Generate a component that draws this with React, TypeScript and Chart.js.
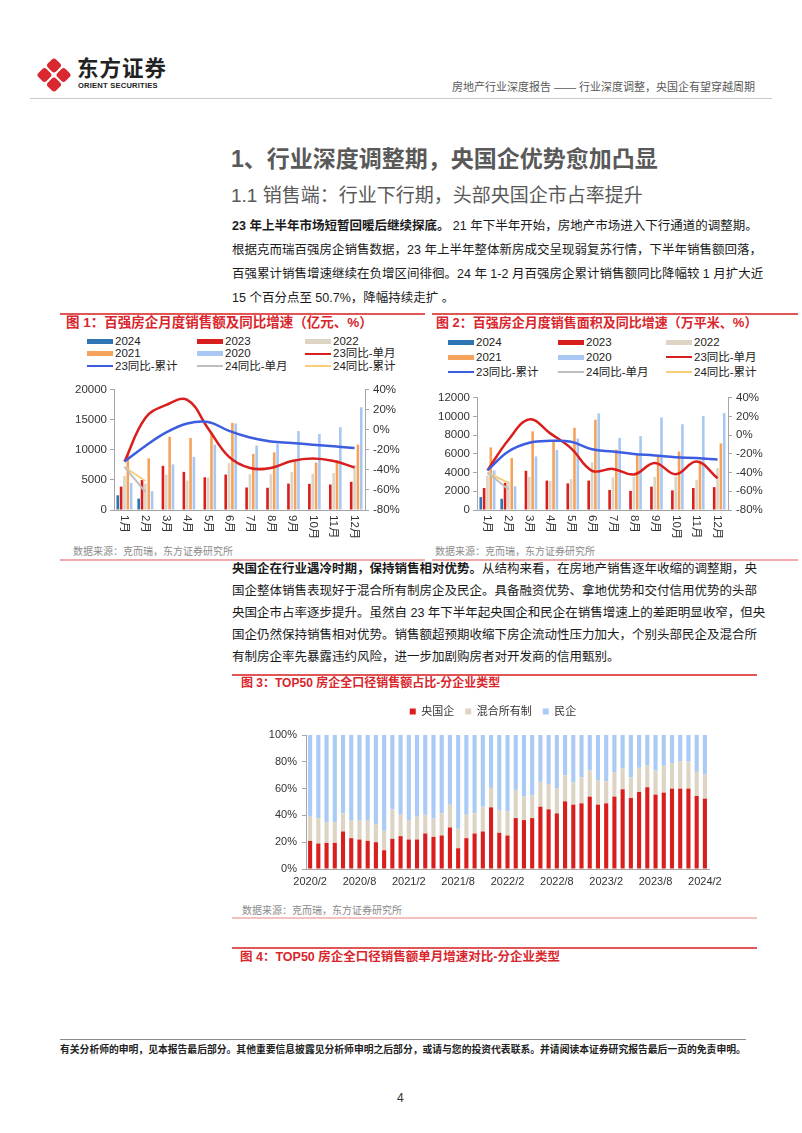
import React, { useEffect, useRef } from "react";
import { Chart, registerables } from "chart.js";
Chart.register(...registerables);

const FONT = "'Liberation Sans', 'Noto Sans CJK SC', sans-serif";

// ---------- Figure 1: 百强房企月度销售额 (亿元) ----------
const monthLabels = ["1月", "2月", "3月", "4月", "5月", "6月", "7月", "8月", "9月", "10月", "11月", "12月"];
const f1Sales2024 = [2450, 1900, null, null, null, null, null, null, null, null, null, null];
const f1Sales2023 = [3900, 5000, 7350, 6350, 5450, 5900, 3750, 3700, 4400, 4350, 4250, 4700];
const f1Sales2022 = [5700, 4400, 5900, 4900, 5400, 7800, 5950, 5950, 6350, 6050, 6150, 7500];
const f1Sales2021 = [9350, 8600, 12200, 12000, 12800, 14500, 9350, 9600, 8200, 7900, 8300, 10900];
const f1Sales2020 = [4500, 3150, 7600, 8850, 10870, 14400, 10750, 11000, 13150, 12660, 13800, 17100];
const f1Yoy23Month = [-31.6, 12, 25, 30, 1.5, -27, -38, -38, -31, -28.5, -31, -37.6];
const f1Yoy23Cum = [-31.6, -16, -2.5, 6.5, 8, -1, -7.6, -11.5, -13, -14.8, -16.4, -18];
const f1Yoy24Month = [-37, -62, null, null, null, null, null, null, null, null, null, null];
const f1Yoy24Cum = [-37, -51, null, null, null, null, null, null, null, null, null, null];

// ---------- Figure 2: 百强房企月度销售面积 (万平米) ----------
const f2Area2024 = [1380, 1200, null, null, null, null, null, null, null, null, null, null];
const f2Area2023 = [2350, 2900, 4200, 3150, 2850, 3150, 2150, 2050, 2500, 2100, 2350, 2450];
const f2Area2022 = [3700, 3050, 3550, 3100, 3300, 5100, 3480, 3550, 3550, 3580, 3240, 4500];
const f2Area2021 = [6700, 5560, 8420, 7450, 8800, 9670, 6470, 5900, 5750, 6260, 5300, 7130];
const f2Area2020 = [4240, 2540, 5740, 6430, 7650, 10330, 7720, 7900, 9910, 9180, 10050, 10370];
const f2Yoy23Month = [-37.6, -5, 17, 2, -14, -38, -36, -42, -29.6, -41.7, -28, -46];
const f2Yoy23Cum = [-37.6, -17.4, -8, -6, -7, -15, -17.4, -20, -21.6, -23.6, -24.3, -26];
const f2Yoy24Month = [-40, -58, null, null, null, null, null, null, null, null, null, null];
const f2Yoy24Cum = [-40, -51, null, null, null, null, null, null, null, null, null, null];

// ---------- Figure 3: TOP50 房企全口径销售额占比 ----------
const f3Months = [
  "2020/2", "2020/3", "2020/4", "2020/5", "2020/6", "2020/7", "2020/8", "2020/9", "2020/10", "2020/11", "2020/12",
  "2021/1", "2021/2", "2021/3", "2021/4", "2021/5", "2021/6", "2021/7", "2021/8", "2021/9", "2021/10", "2021/11", "2021/12",
  "2022/1", "2022/2", "2022/3", "2022/4", "2022/5", "2022/6", "2022/7", "2022/8", "2022/9", "2022/10", "2022/11", "2022/12",
  "2023/1", "2023/2", "2023/3", "2023/4", "2023/5", "2023/6", "2023/7", "2023/8", "2023/9", "2023/10", "2023/11", "2023/12",
  "2024/1", "2024/2",
];
const f3Soe = [21, 19, 19.5, 19.5, 28, 23, 22, 21, 20, 14, 22.5, 24.5, 22, 22, 26.5, 24, 25, 31, 15.5, 23, 26.5, 28, 46, 27, 25, 38, 36.5, 38, 46.5, 44.5, 41.5, 50.5, 48, 49, 54, 48, 49, 54, 59.5, 53, 57.5, 61, 55.5, 57, 60, 60, 60, 54.5, 52.5];
const f3Mixed = [18, 19, 15.5, 15.5, 13.5, 13.5, 14, 15, 13.5, 14.5, 22, 16, 14.5, 17, 14, 13.5, 16.5, 17, 14.5, 17.5, 15, 18.5, 14.5, 17, 18, 21, 17.5, 17, 18.5, 19, 18.5, 19.5, 16.5, 19.5, 19.5, 18, 16.5, 18, 15.5, 15.5, 18, 16.5, 18, 20, 19, 20.5, 20.5, 18, 18];
const f3Private = [61, 62, 65, 65, 58.5, 63.5, 64, 64, 66.5, 71.5, 55.5, 59.5, 63.5, 61, 59.5, 62.5, 58.5, 52, 70, 59.5, 58.5, 53.5, 39.5, 56, 57, 41, 46, 45, 35, 36.5, 40, 30, 35.5, 31.5, 26.5, 34, 34.5, 28, 25, 31.5, 24.5, 22.5, 26.5, 23, 21, 19.5, 19.5, 27.5, 29.5];

const C_RED = "#D91E1E";
const C_B24 = "#2E75B6";
const C_BEIGE = "#DDD4C4";
const C_ORANGE = "#F5A35C";
const C_LBLUE = "#A8C8F3";
const C_LINEBLUE = "#3D5DE0";
const C_GRAY = "#BFBFBF";
const C_YELLOW = "#F9CD7A";
const AXIS = "#A6A6A6";
const TITLE_RED = "#D9262C";

function vLabelsPlugin(size: number, color: string, offset: number) {
  return {
    id: "vLabels",
    afterDraw(chart: any) {
      const xs = chart.scales.x;
      const ctx = chart.ctx;
      ctx.save();
      ctx.font = `${size}px ${FONT}`;
      ctx.fillStyle = color;
      ctx.textAlign = "left";
      ctx.textBaseline = "middle";
      (chart.data.labels as string[]).forEach((l, i) => {
        const px = xs.getPixelForTick(i);
        ctx.save();
        ctx.translate(px, xs.top + offset);
        ctx.rotate(Math.PI / 2);
        ctx.fillText(l, 0, 0);
        ctx.restore();
      });
      ctx.restore();
    },
  };
}

function comboConfig(p: any) {
  const line = (label: string, data: any[], color: string, w: number) => ({
    type: "line",
    label,
    data,
    borderColor: color,
    backgroundColor: color,
    borderWidth: w,
    pointRadius: 0,
    tension: 0.4,
    yAxisID: "y1",
    order: 0,
  });
  const bar = (label: string, data: any[], color: string) => ({
    type: "bar",
    label,
    data,
    backgroundColor: color,
    yAxisID: "y",
    order: 1,
    categoryPercentage: 0.8,
    barPercentage: 0.78,
  });
  return {
    type: "bar",
    data: {
      labels: monthLabels,
      datasets: [
        bar("2024", p.b24, C_B24),
        bar("2023", p.b23, C_RED),
        bar("2022", p.b22, C_BEIGE),
        bar("2021", p.b21, C_ORANGE),
        bar("2020", p.b20, C_LBLUE),
        line("24同比-单月", p.l24m, C_GRAY, 2),
        line("24同比-累计", p.l24c, C_YELLOW, 2),
        line("23同比-累计", p.l23c, C_LINEBLUE, 2.5),
        line("23同比-单月", p.l23m, C_RED, 2.5),
      ],
    },
    options: {
      responsive: false,
      animation: false,
      devicePixelRatio: 1,
      layout: { padding: { top: 8, left: 0, right: 0, bottom: 0 } },
      plugins: { legend: { display: false }, tooltip: { enabled: false } },
      scales: {
        x: {
          grid: { display: true, drawOnChartArea: false, drawTicks: false, color: AXIS },
          border: { display: true, color: AXIS },
          ticks: { display: false },
          afterFit: (s: any) => { s.height = p.xh; },
        },
        y: {
          position: "left",
          min: 0,
          max: p.max,
          ticks: { stepSize: p.step, font: { size: 11.5, family: FONT }, color: "#333", padding: 3, callback: (v: any) => String(v) },
          grid: { drawOnChartArea: false, drawTicks: true, tickLength: 4, color: AXIS },
          border: { color: AXIS },
          afterFit: (s: any) => { s.width = p.lw; },
        },
        y1: {
          position: "right",
          min: -80,
          max: 40,
          ticks: { stepSize: 20, font: { size: 11.5, family: FONT }, color: "#333", padding: 4, callback: (v: any) => v + "%" },
          grid: { drawOnChartArea: false, drawTicks: true, tickLength: 4, color: AXIS },
          border: { color: AXIS },
          afterFit: (s: any) => { s.width = p.rw; },
        },
      },
    },
    plugins: [vLabelsPlugin(11.5, "#333", 5)],
  };
}

function ChartCanvas({ config, left, top, width, height }: any) {
  const ref = useRef<HTMLCanvasElement>(null);
  useEffect(() => {
    const c = new Chart(ref.current as HTMLCanvasElement, config);
    return () => c.destroy();
  }, []);
  return (
    <canvas
      ref={ref}
      width={width}
      height={height}
      style={{ position: "absolute", left, top, width, height }}
    />
  );
}

const Txt = ({ x, y, size, children, style }: any) => (
  <div
    style={{
      position: "absolute",
      left: x,
      top: y - size * 0.65,
      fontSize: size,
      lineHeight: `${size * 1.3}px`,
      whiteSpace: "nowrap",
      fontFamily: FONT,
      ...style,
    }}
  >
    {children}
  </div>
);

const HLine = ({ x, y, w, h, color }: any) => (
  <div style={{ position: "absolute", left: x, top: y, width: w, height: h, background: color }} />
);

const legendItems1 = [
  { label: "2024", color: C_B24, kind: "bar" },
  { label: "2023", color: C_RED, kind: "bar" },
  { label: "2022", color: C_BEIGE, kind: "bar" },
  { label: "2021", color: C_ORANGE, kind: "bar" },
  { label: "2020", color: C_LBLUE, kind: "bar" },
  { label: "23同比-单月", color: C_RED, kind: "line" },
  { label: "23同比-累计", color: C_LINEBLUE, kind: "line" },
  { label: "24同比-单月", color: C_GRAY, kind: "line" },
  { label: "24同比-累计", color: C_YELLOW, kind: "line" },
];

function GridLegend({ cols, rows }: any) {
  return (
    <>
      {legendItems1.map((it, i) => {
        const x = cols[i % 3];
        const y = rows[Math.floor(i / 3)];
        const h = it.kind === "bar" ? 5 : 2;
        return (
          <React.Fragment key={i}>
            <div style={{ position: "absolute", left: x, top: y - h / 2, width: 26, height: h, background: it.color }} />
            <Txt x={x + 28} y={y} size={11.5} style={{ color: "#222" }}>{it.label}</Txt>
          </React.Fragment>
        );
      })}
    </>
  );
}

// legend: extra gap below, and centred over x = 493 on the page (canvas left = 240)
const legendTweak = {
  id: "legendTweak",
  beforeInit(chart: any) {
    const lg = chart.legend;
    if (!lg) return;
    const orig = lg.fit;
    lg.fit = function () {
      orig.call(this);
      this.height += 8;
    };
  },
  afterLayout(chart: any) {
    const lg = chart.legend;
    if (!lg) return;
    const centre = (lg.left + lg.right) / 2;
    const d = 253 - centre;
    lg.left += d;
    lg.right += d;
  },
};

const fig3Config: any = {
  type: "bar",
  data: {
    labels: f3Months,
    datasets: [
      { label: "央国企", data: f3Soe, backgroundColor: C_RED, barPercentage: 0.5, categoryPercentage: 1 },
      { label: "混合所有制", data: f3Mixed, backgroundColor: C_BEIGE, barPercentage: 0.5, categoryPercentage: 1 },
      { label: "民企", data: f3Private, backgroundColor: "#A9CBF5", barPercentage: 0.5, categoryPercentage: 1 },
    ],
  },
  options: {
    responsive: false,
    animation: false,
    devicePixelRatio: 1,
    layout: { padding: { top: 5, left: 0, right: 37, bottom: 0 } },
    plugins: {
      tooltip: { enabled: false },
      legend: {
        position: "top",
        labels: { boxWidth: 6, boxHeight: 6, padding: 11, font: { size: 11, family: FONT }, color: "#333" },
      },
    },
    scales: {
      x: {
        stacked: true,
        grid: { display: true, drawOnChartArea: false, drawTicks: false, color: AXIS },
        border: { color: AXIS },
        ticks: {
          autoSkip: false,
          maxRotation: 0,
          minRotation: 0,
          padding: 6,
          font: { size: 11, family: FONT },
          color: "#333",
          callback: (_v: any, i: number) => (i % 6 === 0 ? f3Months[i] : ""),
        },
        afterFit: (s: any) => { s.height = 20; },
      },
      y: {
        stacked: true,
        min: 0,
        max: 100,
        ticks: { stepSize: 20, font: { size: 11, family: FONT }, color: "#333", padding: 5, callback: (v: any) => v + "%" },
        grid: { drawOnChartArea: false, drawTicks: true, tickLength: 4, color: AXIS },
        border: { color: AXIS },
        afterFit: (s: any) => { s.width = 66; },
      },
    },
  },
  plugins: [legendTweak],
};

const fig1Config = comboConfig({
  b24: f1Sales2024, b23: f1Sales2023, b22: f1Sales2022, b21: f1Sales2021, b20: f1Sales2020,
  l23m: f1Yoy23Month, l23c: f1Yoy23Cum, l24m: f1Yoy24Month, l24c: f1Yoy24Cum,
  max: 20000, step: 5000, lw: 54, rw: 61, xh: 35,
});
const fig2Config = comboConfig({
  b24: f2Area2024, b23: f2Area2023, b22: f2Area2022, b21: f2Area2021, b20: f2Area2020,
  l23m: f2Yoy23Month, l23c: f2Yoy23Cum, l24m: f2Yoy24Month, l24c: f2Yoy24Cum,
  max: 12000, step: 2000, lw: 47, rw: 72, xh: 35,
});

const para1 = [
  [<b key="b">23 年上半年市场短暂回暖后继续探底。</b>, " 21 年下半年开始，房地产市场进入下行通道的调整期。"],
  ["根据克而瑞百强房企销售数据，23 年上半年整体新房成交呈现弱复苏行情，下半年销售额回落，"],
  ["百强累计销售增速继续在负增区间徘徊。24 年 1-2 月百强房企累计销售额同比降幅较 1 月扩大近"],
  ["15 个百分点至 50.7%，降幅持续走扩 。"],
];
const para2 = [
  [<b key="b">央国企在行业遇冷时期，保持销售相对优势。</b>, "从结构来看，在房地产销售逐年收缩的调整期，央"],
  ["国企整体销售表现好于混合所有制房企及民企。具备融资优势、拿地优势和交付信用优势的头部"],
  ["央国企市占率逐步提升。虽然自 23 年下半年起央国企和民企在销售增速上的差距明显收窄，但央"],
  ["国企仍然保持销售相对优势。销售额超预期收缩下房企流动性压力加大，个别头部民企及混合所"],
  ["有制房企率先暴露违约风险，进一步加剧购房者对开发商的信用甄别。"],
];

function Para({ lines, y0, gap }: any) {
  return (
    <>
      {lines.map((ln: any, i: number) => {
        const last = i === lines.length - 1;
        return (
          <div
            key={i}
            style={{
              position: "absolute",
              left: 232,
              top: y0 + gap * i - 8.5,
              width: 525,
              fontSize: 12.5,
              lineHeight: "17px",
              fontFamily: FONT,
              color: "#1a1a1a",
              whiteSpace: "nowrap",
              textAlign: last ? "left" : "justify",
              textAlignLast: last ? "left" : "justify",
            } as any}
          >
            {ln}
          </div>
        );
      })}
    </>
  );
}

const srcText = "数据来源：克而瑞，东方证券研究所";

export default function App() {
  return (
    <div style={{ position: "absolute", left: 0, top: 0, width: 802, height: 1133, background: "#fff", overflow: "hidden", fontFamily: FONT }}>
      {/* header */}
      <svg style={{ position: "absolute", left: 35, top: 55 }} width={38} height={40}>
        <g transform="translate(19,20) rotate(45)">
          <rect x={-12.5} y={-12.5} width={11.5} height={11.5} rx={3} fill="#D9282F" />
          <rect x={1} y={-12.5} width={11.5} height={11.5} rx={3} fill="#D9282F" />
          <rect x={-12.5} y={1} width={11.5} height={11.5} rx={3} fill="#D9282F" />
          <rect x={1} y={1} width={11.5} height={11.5} rx={3} fill="#D9282F" />
        </g>
      </svg>
      <Txt x={77} y={70} size={21.5} style={{ fontWeight: 700, color: "#222", letterSpacing: 1 }}>东方证券</Txt>
      <Txt x={78} y={86} size={7.6} style={{ fontWeight: 700, color: "#222", letterSpacing: 0.2 }}>ORIENT SECURITIES</Txt>
      <Txt x={452} y={87} size={11} style={{ color: "#595959" }}>房地产行业深度报告 —— 行业深度调整，央国企有望穿越周期</Txt>
      <HLine x={30} y={98} w={742} h={1} color="#C8C8C8" />

      {/* titles */}
      <Txt x={231} y={160} size={23} style={{ fontWeight: 700, color: "#595959" }}>1、行业深度调整期，央国企优势愈加凸显</Txt>
      <Txt x={231} y={196} size={19} style={{ color: "#595959" }}>1.1 销售端：行业下行期，头部央国企市占率提升</Txt>

      <Para lines={para1} y0={226} gap={24} />

      {/* figure 1 */}
      <HLine x={60} y={313} w={365} h={1.5} color="#E05555" />
      <Txt x={66} y={323} size={13.5} style={{ fontWeight: 700, color: TITLE_RED }}>图 1：百强房企月度销售额及同比增速（亿元、%）</Txt>
      <GridLegend cols={[87, 197, 305]} rows={[341, 353.5, 366]} />
      <ChartCanvas config={fig1Config} left={60} top={379} width={366} height={166} />
      <Txt x={73} y={551} size={10} style={{ color: "#8C8C8C" }}>{srcText}</Txt>
      <HLine x={60} y={559} w={365} h={1.5} color="#F0A8A8" />

      {/* figure 2 */}
      <HLine x={432} y={313} w={366} h={1.5} color="#E05555" />
      <Txt x={436} y={323} size={13} style={{ fontWeight: 700, color: TITLE_RED }}>图 2：百强房企月度销售面积及同比增速（万平米、%）</Txt>
      <GridLegend cols={[448, 558, 666]} rows={[342, 357, 372]} />
      <ChartCanvas config={fig2Config} left={430} top={387} width={370} height={158} />
      <Txt x={435} y={551} size={10} style={{ color: "#8C8C8C" }}>{srcText}</Txt>
      <HLine x={432} y={559} w={366} h={1.5} color="#F0A8A8" />

      <Para lines={para2} y0={569} gap={22} />

      {/* figure 3 */}
      <HLine x={232} y={674} w={525} h={1.5} color="#E05555" />
      <Txt x={241} y={684} size={12} style={{ fontWeight: 700, color: TITLE_RED }}>图 3：TOP50 房企全口径销售额占比-分企业类型</Txt>
      <ChartCanvas config={fig3Config} left={240} top={690} width={506} height={199} />
      <Txt x={242} y={910} size={10} style={{ color: "#8C8C8C" }}>{srcText}</Txt>
      <HLine x={232} y={917} w={525} h={2} color="#F5C0C0" />

      {/* figure 4 */}
      <HLine x={232} y={947} w={525} h={1.5} color="#E05555" />
      <Txt x={240} y={957} size={12.5} style={{ fontWeight: 700, color: TITLE_RED }}>图 4：TOP50 房企全口径销售额单月增速对比-分企业类型</Txt>

      {/* footer */}
      <HLine x={60} y={1039} w={686} h={1} color="#8C8C8C" />
      <Txt x={60} y={1050} size={9.8} style={{ fontWeight: 700, color: "#222" }}>有关分析师的申明，见本报告最后部分。其他重要信息披露见分析师申明之后部分，或请与您的投资代表联系。并请阅读本证券研究报告最后一页的免责申明。</Txt>
      <Txt x={397} y={1099} size={12} style={{ color: "#333" }}>4</Txt>
    </div>
  );
}
